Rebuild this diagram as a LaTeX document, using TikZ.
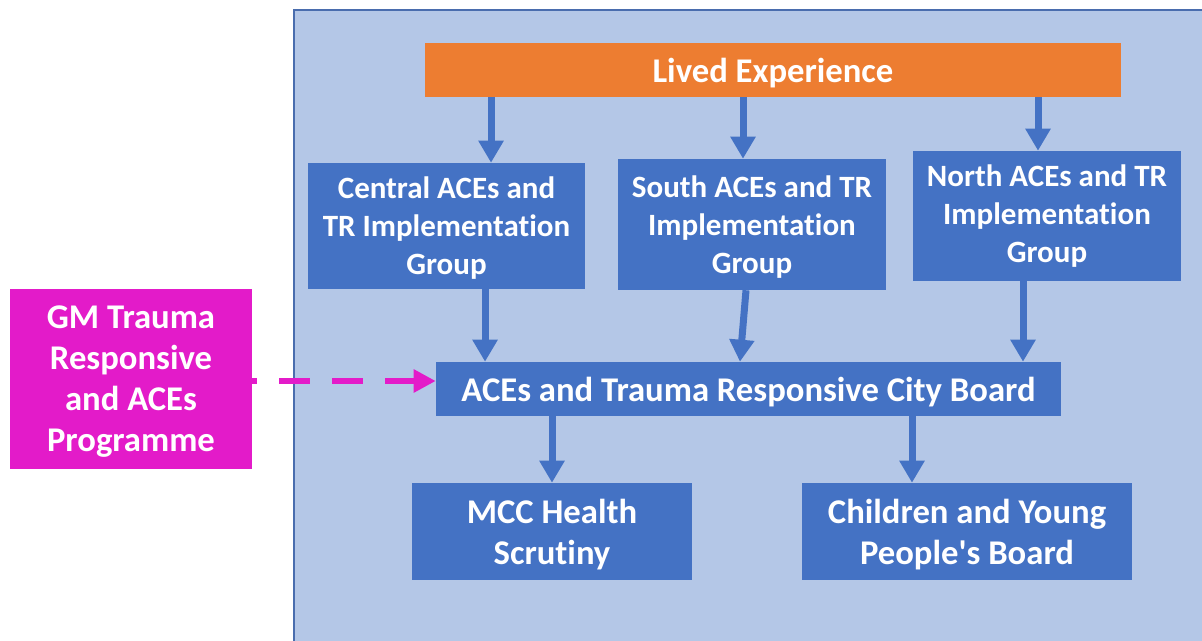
\documentclass[tikz,border=0pt]{standalone}
\usepackage{fontspec}
\setmainfont{Carlito}[Ligatures={NoCommon}]
\usetikzlibrary{arrows.meta}
\definecolor{panel}{HTML}{B4C7E7}
\definecolor{panelline}{HTML}{4A6DAE}
\definecolor{boxblue}{HTML}{4472C4}
\definecolor{livedorange}{HTML}{ED7D31}
\definecolor{gmpink}{HTML}{E31BC9}
\tikzset{
  stepbox/.style={rectangle, fill=boxblue, text=white, align=center, inner sep=0pt,
    font=\fontsize{23.25}{28.5}\selectfont\bfseries},
  widebox/.style={stepbox, text depth=0pt, font=\fontsize{26}{30.75}\selectfont\bfseries},
  flow/.style={draw=boxblue, line width=5.25pt,
    -{Triangle[width=18pt,length=16.5pt]}},
  link/.style={draw=gmpink, line width=4.5pt,
    dash pattern=on 23.25pt off 16.5pt, dash phase=19.5pt,
    -{Triangle[width=16.5pt,length=16.5pt]}}
}
\begin{document}
\begin{tikzpicture}[x=0.75pt,y=-0.75pt]
\useasboundingbox (0,0) rectangle (1202,641);
\clip (0,0) rectangle (1202,641);
% background panel
\fill[white] (0,0) rectangle (1202,641);
\draw[panelline, fill=panel, line width=1.2pt] (294,10) rectangle (1220,660);

% nodes
\node[widebox, fill=livedorange, minimum width=522pt, minimum height=40.5pt] (lived) at (773,70) {Lived Experience};
\node[stepbox, text depth=1pt, minimum width=207.75pt, minimum height=94.5pt] (central) at (446.5,226) {Central ACEs and\\TR Implementation\\Group};
\node[stepbox, text depth=0pt, minimum width=201pt, minimum height=98.25pt] (south) at (752,224.5) {South ACEs and TR\\Implementation\\Group};
\node[stepbox, minimum width=201pt, minimum height=97.5pt] (north) at (1047,216) {North ACEs and TR\\Implementation\\Group};
\node[widebox, minimum width=468.75pt, minimum height=40.5pt] (board) at (748.5,389) {ACEs and Trauma Responsive City Board};
\node[widebox, minimum width=210pt, minimum height=72.75pt] (mcc) at (552,531.5) {MCC Health\\Scrutiny};
\node[widebox, minimum width=247.5pt, minimum height=72.75pt] (cyp) at (967,531.5) {Children and Young\\People\textquotesingle s Board};
\node[widebox, fill=gmpink, minimum width=181.5pt, minimum height=135pt] (gm) at (131,379) {GM Trauma\\Responsive\\and ACEs\\Programme};

% connectors
\draw[flow] ([xshift=33.4pt]central.north |- lived.south) -- ([xshift=33.4pt]central.north);
\draw[flow] ([xshift=-6.75pt]south.north |- lived.south) -- ([xshift=-6.75pt]south.north);
\draw[flow] ([xshift=-6.75pt]north.north |- lived.south) -- ([xshift=-6.75pt]north.north);
\draw[flow] ([xshift=28.9pt]central.south) -- ([xshift=28.9pt]central.south |- board.north);
\draw[flow] ([xshift=-4.5pt]south.south) -- ([xshift=-6.4pt]board.north);
\draw[flow] ([xshift=-18pt]north.south) -- ([xshift=-18pt]north.south |- board.north);
\draw[flow] (mcc.north |- board.south) -- (mcc.north);
\draw[flow] ([xshift=-41.25pt]cyp.north |- board.south) -- ([xshift=-41.25pt]cyp.north);
\draw[link] ([yshift=-1.5pt]gm.east) -- ([yshift=-1.5pt]gm.east -| board.west);
\end{tikzpicture}
\end{document}
